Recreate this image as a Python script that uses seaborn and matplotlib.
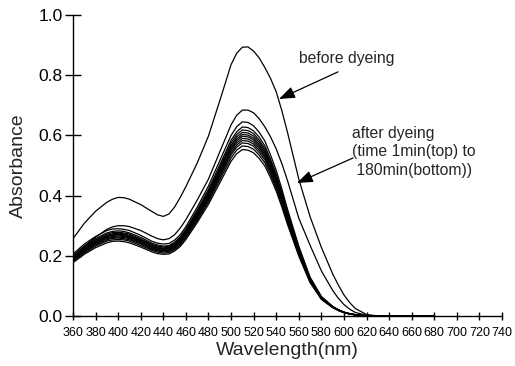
import numpy as np
import pandas as pd
import matplotlib
matplotlib.use("Agg")
import matplotlib.pyplot as plt
import seaborn as sns

# ---------------- data ----------------
wavelength = [360, 370, 380, 390, 395, 400, 405, 410, 420, 430,
              435, 440, 445, 450, 455, 460, 470, 480, 490, 500,
              505, 510, 515, 520, 525, 530, 535, 540, 545, 550, 560, 570,
              580, 590, 595, 600, 605, 610, 620,
              630, 640, 650, 660, 670, 680]

before_dyeing = [0.257, 0.308, 0.348, 0.378, 0.388, 0.394, 0.393, 0.388, 0.370, 0.347,
                 0.336, 0.331, 0.339, 0.362, 0.394, 0.430, 0.508, 0.598, 0.715, 0.835,
                 0.873, 0.893, 0.894, 0.880, 0.857, 0.825, 0.789, 0.745, 0.682, 0.610, 0.455, 0.330,
                 0.228, 0.140, 0.103, 0.070, 0.045, 0.025, 0.005,
                 0, 0, 0, 0, 0, 0]

after_1min = [0.198, 0.232, 0.262, 0.288, 0.296, 0.300, 0.300, 0.297, 0.284, 0.265,
              0.257, 0.253, 0.257, 0.270, 0.292, 0.320, 0.385, 0.455, 0.545, 0.635,
              0.667, 0.684, 0.684, 0.675, 0.655, 0.628, 0.595, 0.555, 0.506, 0.450, 0.325, 0.235,
              0.150, 0.085, 0.059, 0.038, 0.023, 0.012, 0.002,
              0, 0, 0, 0, 0, 0]
after_2 = [0.206, 0.239, 0.264, 0.284, 0.289, 0.290, 0.288, 0.284, 0.268, 0.248,
           0.242, 0.239, 0.241, 0.252, 0.270, 0.297, 0.361, 0.432, 0.516, 0.600,
           0.629, 0.645, 0.643, 0.632, 0.610, 0.581, 0.535, 0.484, 0.422, 0.355, 0.232, 0.129,
           0.065, 0.032, 0.021, 0.013, 0.008, 0.005, 0,
           0, 0, 0, 0, 0, 0]
after_3 = [0.201, 0.232, 0.257, 0.276, 0.281, 0.283, 0.281, 0.276, 0.261, 0.242,
           0.236, 0.232, 0.234, 0.245, 0.263, 0.289, 0.352, 0.421, 0.502, 0.584,
           0.612, 0.628, 0.626, 0.615, 0.594, 0.565, 0.521, 0.471, 0.411, 0.345, 0.226, 0.126,
           0.063, 0.031, 0.021, 0.013, 0.008, 0.004, 0,
           0, 0, 0, 0, 0, 0]
after_4 = [0.198, 0.229, 0.253, 0.272, 0.277, 0.278, 0.276, 0.272, 0.256, 0.238,
           0.232, 0.229, 0.231, 0.241, 0.258, 0.284, 0.346, 0.414, 0.494, 0.575,
           0.603, 0.618, 0.616, 0.606, 0.584, 0.556, 0.513, 0.464, 0.405, 0.340, 0.222, 0.124,
           0.062, 0.031, 0.020, 0.012, 0.007, 0.004, 0,
           0, 0, 0, 0, 0, 0]
after_5 = [0.195, 0.226, 0.250, 0.268, 0.273, 0.275, 0.273, 0.268, 0.253, 0.235,
           0.229, 0.226, 0.228, 0.238, 0.255, 0.281, 0.342, 0.409, 0.488, 0.567,
           0.595, 0.610, 0.608, 0.598, 0.577, 0.549, 0.506, 0.458, 0.400, 0.336, 0.220, 0.122,
           0.061, 0.031, 0.020, 0.012, 0.007, 0.004, 0,
           0, 0, 0, 0, 0, 0]
after_6 = [0.193, 0.223, 0.247, 0.265, 0.270, 0.271, 0.270, 0.265, 0.250, 0.232,
           0.226, 0.223, 0.225, 0.235, 0.252, 0.277, 0.338, 0.404, 0.482, 0.561,
           0.588, 0.603, 0.601, 0.591, 0.570, 0.543, 0.500, 0.452, 0.395, 0.332, 0.217, 0.121,
           0.060, 0.030, 0.020, 0.012, 0.007, 0.004, 0,
           0, 0, 0, 0, 0, 0]
after_7 = [0.191, 0.221, 0.245, 0.263, 0.268, 0.269, 0.267, 0.263, 0.248, 0.230,
           0.224, 0.221, 0.223, 0.233, 0.250, 0.275, 0.334, 0.400, 0.478, 0.555,
           0.582, 0.597, 0.595, 0.585, 0.564, 0.537, 0.496, 0.448, 0.391, 0.328, 0.215, 0.119,
           0.060, 0.030, 0.020, 0.012, 0.007, 0.004, 0,
           0, 0, 0, 0, 0, 0]
after_8 = [0.189, 0.218, 0.242, 0.260, 0.264, 0.266, 0.264, 0.260, 0.245, 0.227,
           0.221, 0.218, 0.220, 0.230, 0.247, 0.271, 0.330, 0.395, 0.472, 0.549,
           0.575, 0.590, 0.588, 0.578, 0.558, 0.531, 0.490, 0.443, 0.386, 0.325, 0.212, 0.118,
           0.059, 0.030, 0.020, 0.012, 0.007, 0.004, 0,
           0, 0, 0, 0, 0, 0]
after_9 = [0.187, 0.216, 0.239, 0.257, 0.261, 0.262, 0.261, 0.257, 0.242, 0.224,
           0.219, 0.216, 0.218, 0.227, 0.244, 0.268, 0.326, 0.391, 0.466, 0.542,
           0.568, 0.583, 0.581, 0.571, 0.551, 0.525, 0.484, 0.437, 0.382, 0.321, 0.210, 0.117,
           0.058, 0.029, 0.019, 0.012, 0.007, 0.004, 0,
           0, 0, 0, 0, 0, 0]
after_10 = [0.184, 0.213, 0.236, 0.253, 0.258, 0.259, 0.257, 0.253, 0.239, 0.221,
            0.216, 0.213, 0.215, 0.224, 0.240, 0.265, 0.322, 0.385, 0.460, 0.535,
            0.561, 0.575, 0.573, 0.564, 0.543, 0.518, 0.477, 0.431, 0.377, 0.316, 0.207, 0.115,
            0.058, 0.029, 0.019, 0.012, 0.007, 0.004, 0,
            0, 0, 0, 0, 0, 0]
after_11 = [0.181, 0.209, 0.232, 0.249, 0.253, 0.254, 0.253, 0.249, 0.234, 0.218,
            0.212, 0.209, 0.211, 0.220, 0.236, 0.260, 0.316, 0.379, 0.452, 0.525,
            0.551, 0.565, 0.563, 0.554, 0.534, 0.509, 0.469, 0.424, 0.370, 0.311, 0.203, 0.113,
            0.057, 0.028, 0.019, 0.011, 0.007, 0.004, 0,
            0, 0, 0, 0, 0, 0]
after_180min = [0.177, 0.205, 0.227, 0.243, 0.248, 0.249, 0.247, 0.243, 0.229, 0.213,
                0.207, 0.205, 0.206, 0.216, 0.231, 0.254, 0.310, 0.371, 0.442, 0.514,
                0.539, 0.553, 0.551, 0.542, 0.523, 0.498, 0.459, 0.415, 0.362, 0.304, 0.199, 0.111,
                0.055, 0.028, 0.018, 0.011, 0.007, 0.004, 0,
                0, 0, 0, 0, 0, 0]

series = {
    "before": before_dyeing,
    "a01": after_1min, "a02": after_2, "a03": after_3, "a04": after_4,
    "a05": after_5, "a06": after_6, "a07": after_7, "a08": after_8,
    "a09": after_9, "a10": after_10, "a11": after_11, "a12": after_180min,
}

x_ticks = list(range(360, 741, 20))
y_ticks = [0.0, 0.2, 0.4, 0.6, 0.8, 1.0]

rows = []
for name, vals in series.items():
    for w, a in zip(wavelength, vals):
        rows.append({"wavelength": w, "absorbance": a, "curve": name})
df = pd.DataFrame(rows)

# ---------------- style ----------------
sns.set_theme(style="ticks")
plt.rcParams["font.family"] = ["Liberation Sans", "DejaVu Sans"]

fig = plt.figure(figsize=(5.15, 3.66), dpi=100)
ax = fig.add_axes([73 / 515, 1 - 316 / 366, (502 - 73) / 515, (316 - 15) / 366])

sns.lineplot(data=df, x="wavelength", y="absorbance", hue="curve",
             palette=["black"] * len(series), linewidth=0.9, legend=False,
             ax=ax, estimator=None, sort=True)

ax.set_xlim(360, 740)
ax.set_ylim(0, 1.0)
ax.set_xticks(x_ticks)
ax.set_xticklabels([str(t) for t in x_ticks], fontsize=9)
ax.set_yticks(y_ticks)
ax.set_yticklabels([f"{t:.1f}" for t in y_ticks], fontsize=12.5)
for s in ["top", "right"]:
    ax.spines[s].set_visible(False)
for s in ["left", "bottom"]:
    ax.spines[s].set_color("black")
    ax.spines[s].set_linewidth(1.0)
ax.tick_params(axis="y", direction="inout", length=11, width=1, pad=2, colors="black")
ax.tick_params(axis="x", direction="inout", length=6, width=1, pad=5, colors="black")

ax.set_xlabel("Wavelength(nm)", fontsize=14, labelpad=2)
ax.set_ylabel("Absorbance", fontsize=14, labelpad=8)

# annotations
ax.text(602.7, 0.857, "before dyeing", fontsize=11.3, ha="center", va="center")
ax.annotate("", xy=(542.5, 0.721), xytext=(594.7, 0.811),
            arrowprops=dict(arrowstyle="-|>,head_length=0.8,head_width=0.3",
                            color="black", lw=0.9, shrinkA=0, shrinkB=0))
ax.text(607.5, 0.545, "after dyeing\n(time 1min(top) to\n 180min(bottom))",
        fontsize=11.3, ha="left", va="center", linespacing=1.3)
ax.annotate("", xy=(558.4, 0.442), xytext=(608.0, 0.525),
            arrowprops=dict(arrowstyle="-|>,head_length=0.8,head_width=0.3",
                            color="black", lw=0.9, shrinkA=0, shrinkB=0))

fig.savefig("out.png", dpi=100)
